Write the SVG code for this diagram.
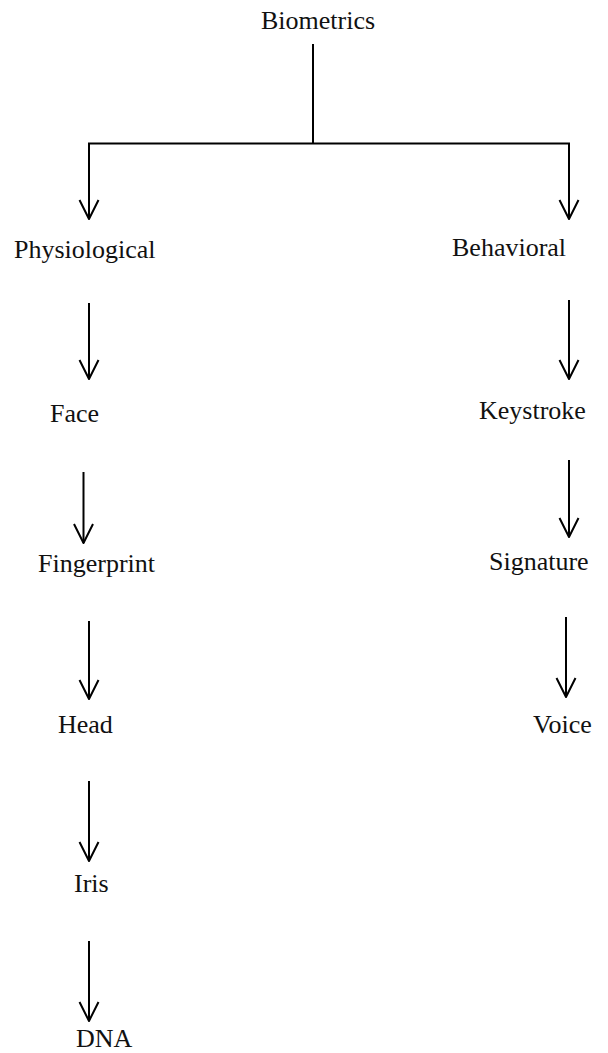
<svg xmlns="http://www.w3.org/2000/svg" width="608" height="1053" viewBox="0 0 608 1053">
<style>
text{font-family:"Liberation Serif","Times New Roman",serif;font-size:26px;fill:#111}
.c{fill:none;stroke:#000;stroke-width:2}
</style>
<defs>
<marker id="ah" markerUnits="userSpaceOnUse" markerWidth="40" markerHeight="40" refX="0" refY="0" orient="auto" overflow="visible">
<path d="M-19,-9.5 L0,0 L-19,9.5" fill="none" stroke="#000" stroke-width="2" stroke-linejoin="round"/>
</marker>
</defs>
<rect width="608" height="1053" fill="#fff"/>
<g id="connectors">
<line class="c" x1="313" y1="44" x2="313" y2="143.5"/>
<polyline class="c" points="89,219 89,143.5 569,143.5 569,219" marker-end="url(#ah)"/>
<line class="c" x1="89" y1="143.5" x2="89" y2="219" marker-end="url(#ah)"/>
<line class="c" x1="89" y1="303" x2="89" y2="379" marker-end="url(#ah)"/>
<line class="c" x1="83.5" y1="472" x2="83.5" y2="543" marker-end="url(#ah)"/>
<line class="c" x1="89" y1="621" x2="89" y2="699" marker-end="url(#ah)"/>
<line class="c" x1="89" y1="781" x2="89" y2="861" marker-end="url(#ah)"/>
<line class="c" x1="89" y1="941" x2="89" y2="1021" marker-end="url(#ah)"/>
<line class="c" x1="569" y1="300" x2="569" y2="379" marker-end="url(#ah)"/>
<line class="c" x1="569" y1="460" x2="569" y2="537" marker-end="url(#ah)"/>
<line class="c" x1="566" y1="617" x2="566" y2="697" marker-end="url(#ah)"/>
</g>
<g id="biometrics"><text x="261" y="29">Biometrics</text></g>
<g id="physiological"><text x="14" y="258">Physiological</text></g>
<g id="behavioral"><text x="452" y="256">Behavioral</text></g>
<g id="face"><text x="50" y="422">Face</text></g>
<g id="fingerprint"><text x="38" y="572">Fingerprint</text></g>
<g id="head"><text x="58" y="733">Head</text></g>
<g id="iris"><text x="74" y="892">Iris</text></g>
<g id="dna"><text x="76" y="1047">DNA</text></g>
<g id="keystroke"><text x="479" y="419">Keystroke</text></g>
<g id="signature"><text x="489" y="570">Signature</text></g>
<g id="voice"><text x="533" y="733">Voice</text></g>
</svg>
